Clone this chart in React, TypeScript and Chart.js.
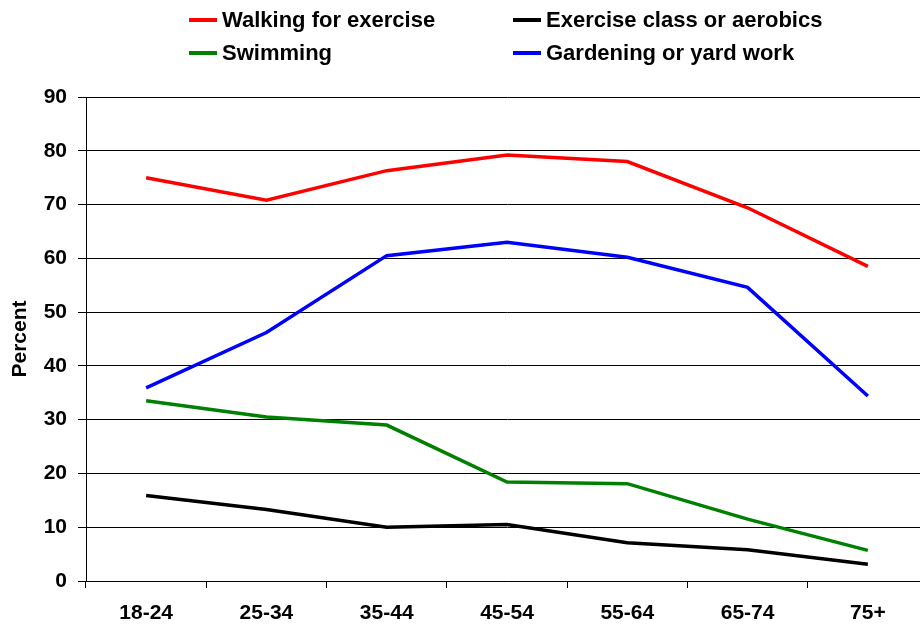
import React, { useEffect, useRef } from "react";
import { Chart, registerables } from "chart.js";

Chart.register(...registerables);

const categories = ["18-24", "25-34", "35-44", "45-54", "55-64", "65-74", "75+"];
const walking = [75.0, 70.8, 76.3, 79.2, 78.0, 69.4, 58.5];
const exerciseClass = [15.9, 13.3, 10.0, 10.5, 7.1, 5.8, 3.1];
const swimming = [33.5, 30.5, 29.0, 18.4, 18.1, 11.5, 5.7];
const gardening = [35.9, 46.2, 60.5, 63.0, 60.2, 54.6, 34.4];

const seriesNames = ["Walking for exercise", "Exercise class or aerobics", "Swimming", "Gardening or yard work"];
const seriesColors = ["#ff0000", "#000000", "#008000", "#0000ff"];
const yTicks = [0, 10, 20, 30, 40, 50, 60, 70, 80, 90];

const FONT = "'Liberation Sans', Arial, sans-serif";

const legendPlugin = {
  id: "gridLegend",
  afterDraw(chart: any) {
    const ctx = chart.ctx;
    const cols = [189, 513];
    const rows = [20, 53];
    ctx.save();
    ctx.font = `bold 22px ${FONT}`;
    ctx.textBaseline = "middle";
    ctx.textAlign = "left";
    seriesNames.forEach((name, i) => {
      const x = cols[i % 2];
      const y = rows[Math.floor(i / 2)];
      ctx.strokeStyle = seriesColors[i];
      ctx.lineWidth = 4;
      ctx.beginPath();
      ctx.moveTo(x, y);
      ctx.lineTo(x + 28, y);
      ctx.stroke();
      ctx.fillStyle = "#000";
      ctx.fillText(name, x + 33, y + 1);
    });
    ctx.restore();
  },
};

export default function App() {
  const ref = useRef<HTMLCanvasElement>(null);
  useEffect(() => {
    if (!ref.current) return;
    const values = [walking, exerciseClass, swimming, gardening];
    const chart = new Chart(ref.current, {
      type: "line",
      data: {
        labels: categories,
        datasets: seriesNames.map((n, i) => ({
          label: n,
          data: values[i],
          borderColor: seriesColors[i],
          backgroundColor: seriesColors[i],
          borderWidth: 3.5,
          pointRadius: 0,
          tension: 0,
          fill: false,
        })),
      },
      options: {
        animation: false,
        responsive: false,
        maintainAspectRatio: false,
        layout: { padding: { top: 97, left: 0, right: 8, bottom: 0 } },
        plugins: { legend: { display: false }, tooltip: { enabled: false } },
        scales: {
          x: {
            type: "category",
            offset: true,
            grid: {
              offset: true,
              drawOnChartArea: false,
              drawTicks: true,
              tickLength: 7,
              color: "#000",
              tickColor: "#000",
            },
            border: { display: true, color: "#000", width: 1 },
            ticks: {
              color: "#000",
              font: { family: FONT, size: 21, weight: "bold" },
              padding: 13,
              maxRotation: 0,
              autoSkip: false,
            },
            afterFit(scale: any) {
              scale.height = 44;
            },
          },
          y: {
            min: 0,
            max: 90,
            afterBuildTicks(scale: any) {
              scale.ticks = yTicks.map((v) => ({ value: v }));
            },
            grid: {
              color: "#000",
              lineWidth: 1,
              drawTicks: true,
              tickLength: 8,
              tickColor: "#000",
            },
            border: { display: true, color: "#000", width: 1 },
            ticks: {
              color: "#000",
              font: { family: FONT, size: 21, weight: "bold" },
              padding: 11,
            },
            title: {
              display: true,
              text: "Percent",
              color: "#000",
              font: { family: FONT, size: 21, weight: "bold" },
              padding: { top: 8, bottom: 0 },
            },
            afterFit(scale: any) {
              scale.width = 86;
            },
          },
        },
      },
      plugins: [legendPlugin],
    });
    return () => chart.destroy();
  }, []);
  return (
    <div style={{ position: "fixed", left: 0, top: 0, width: 920, height: 625, overflow: "hidden", background: "#fff" }}>
      <canvas ref={ref} width={936} height={625} style={{ display: "block" }} />
    </div>
  );
}
